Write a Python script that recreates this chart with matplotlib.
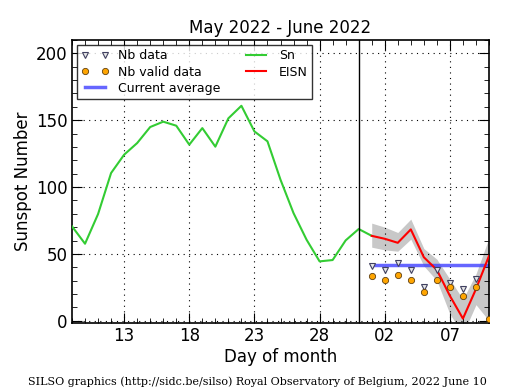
import matplotlib
matplotlib.use("Agg")
import matplotlib.pyplot as plt
import numpy as np
from matplotlib.ticker import MultipleLocator, FixedLocator

# Days counted from May 1 = 1 (June 1 = 32)
sn_days = list(range(9, 33))
sn_values = [70.6, 57.6, 79.8, 110.5, 124.2, 132.9, 144.9, 148.9, 145.9, 131.7,
             144.1, 130.2, 151.4, 160.8, 141.6, 134.2, 105.5, 80.5, 60.6, 44.4,
             45.4, 60.1, 68.6, 63.5]

eisn_days = list(range(32, 42))
eisn_values = [63.5, 61.3, 58.3, 68.3, 47.5, 38.0, 18.6, 1.6, 23.7, 48.5]
eisn_low = [55, 53, 52, 61, 41, 30, 5, -10, 12, 0]
eisn_high = [73, 70, 66, 76, 54, 46, 31, 16, 35, 62]

nb_days = list(range(32, 41))
nb_data = [41.2, 38.0, 43.2, 38.0, 25.5, 37.6, 28.0, 23.7, 31.4]

valid_days = list(range(32, 42))
nb_valid = [33.7, 30.7, 34.4, 30.2, 21.4, 30.5, 25.4, 18.6, 25.4, 1.6]

current_average = 42.0
avg_days = [32, 41]

tick_days = [13, 18, 23, 28, 33, 38]
tick_labels = ["13", "18", "23", "28", "02", "07"]

fig = plt.figure(figsize=(5.15, 3.9), dpi=100, facecolor="white")
ax = fig.add_axes([72/515, 1-323/390, (489-72)/515, (323-40)/390])

ax.fill_between(eisn_days, eisn_low, eisn_high, color="#c8c8c8", lw=0, zorder=1)
ax.plot(sn_days, sn_values, color="#33cc33", lw=1.5, label="Sn", zorder=3)
ax.plot(eisn_days, eisn_values, color="red", lw=1.5, label="EISN", zorder=4)
ax.plot(avg_days, [current_average]*2, color="#4040ff", lw=2.5, alpha=0.8,
        label="Current average", zorder=2)
ax.plot(nb_days, nb_data, linestyle="none", marker="v", ms=4.5, mfc="#e6e6e6",
        mec="#404060", mew=0.8, label="Nb data", zorder=5)
ax.plot(valid_days, nb_valid, linestyle="none", marker="o", ms=4.5, mfc="orange",
        mec="#604010", mew=0.6, label="Nb valid data", zorder=5)
ax.axvline(31, color="black", lw=1.0, zorder=3)

ax.set_xlim(9, 41)
ax.set_ylim(-1.7, 210)
ax.xaxis.set_major_locator(FixedLocator(tick_days))
ax.set_xticklabels(tick_labels)
ax.xaxis.set_minor_locator(MultipleLocator(1))
ax.yaxis.set_major_locator(MultipleLocator(50))
ax.yaxis.set_minor_locator(MultipleLocator(10))
ax.tick_params(which="both", direction="in", top=True, right=True, labelsize=12)
ax.tick_params(which="major", length=7, width=0.8, pad=3)
ax.tick_params(which="minor", length=3.5, width=0.6)
ax.grid(True, which="major", color="black", linestyle=(0, (1, 4)), lw=0.8)
for s in ax.spines.values():
    s.set_linewidth(1.2)

ax.set_title("May 2022 - June 2022", fontsize=12, pad=5)
ax.set_xlabel("Day of month", fontsize=12, labelpad=2)
ax.set_ylabel("Sunspot Number", fontsize=12, labelpad=3)

h, l = ax.get_legend_handles_labels()
order = [l.index(k) for k in ["Nb data", "Nb valid data", "Current average", "Sn", "EISN"]]
leg = ax.legend([h[i] for i in order], [l[i] for i in order], loc="upper left", ncol=2,
                fontsize=9, numpoints=2, frameon=True, fancybox=False,
                borderaxespad=0.4, handlelength=2.2, columnspacing=1.8,
                labelspacing=0.25, borderpad=0.35, handletextpad=0.7)
leg.get_frame().set_edgecolor("black")
leg.get_frame().set_linewidth(1.0)

fig.text(0.5, 0.008, "SILSO graphics (http://sidc.be/silso) Royal Observatory of Belgium, 2022 June 10",
         ha="center", va="bottom", fontsize=8, family="DejaVu Serif")

fig.savefig("out.png", dpi=100, facecolor="white")
